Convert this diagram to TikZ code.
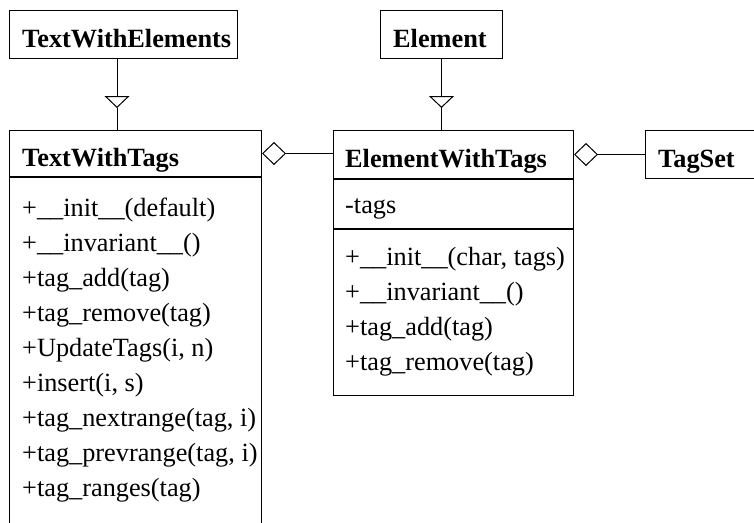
\documentclass[tikz,border=0pt]{standalone}
\usepackage{fontspec}
\setmainfont{Liberation Serif}
\usetikzlibrary{arrows.meta, calc}

\begin{document}
\begin{tikzpicture}[x=1pt, y=-1pt,
  umlbox/.style={draw, line width=1pt, rectangle, inner sep=0pt, anchor=north west},
  ctitle/.style={anchor=base west, inner sep=0pt, font=\fontsize{26.3}{30}\selectfont\bfseries},
  member/.style={anchor=base west, inner sep=0pt, font=\fontsize{26.3}{30}\selectfont},
  link/.style={line width=1pt},
  inherit/.style={link, -{Triangle[open, length=12pt, width=25pt]}},
  aggr/.style={link, {Diamond[open, length=24pt, width=23pt]}-},
]
\clip (0,0) rectangle (754,522);

% class TextWithElements
\node[umlbox, minimum width=228pt, minimum height=48pt] (twe) at (9,10) {};
\node[ctitle] (twe-name) at ($(twe.north west)+(13,37)$) {TextWithElements};

% class Element
\node[umlbox, minimum width=122pt, minimum height=48pt] (el) at (380,10) {};
\node[ctitle] (el-name) at ($(el.north west)+(13,37)$) {Element};

% class TextWithTags (name + methods)
\node[umlbox, minimum width=252pt, minimum height=46pt] (twt) at (9,130) {};
\node[ctitle] (twt-name) at ($(twt.north west)+(13,36)$) {TextWithTags};
\node[umlbox, minimum width=252pt, minimum height=380pt] (twtm) at (twt.south west) {};
\foreach \m [count=\i from 0] in {
    {+\_\_init\_\_(default)},
    {+\_\_invariant\_\_()},
    {+tag\_add(tag)},
    {+tag\_remove(tag)},
    {+UpdateTags(i, n)},
    {+insert(i, s)},
    {+tag\_nextrange(tag, i)},
    {+tag\_prevrange(tag, i)},
    {+tag\_ranges(tag)}}
  \node[member] (twt-m\i) at ($(twtm.north west)+(13,39+35*\i)$) {\m};

% class ElementWithTags (name + attribute + methods)
\node[umlbox, minimum width=240pt, minimum height=48pt] (ewt) at (333,130) {};
\node[ctitle] (ewt-name) at ($(ewt.north west)+(12,37)$) {ElementWithTags};
\node[umlbox, minimum width=240pt, minimum height=49pt] (ewta) at (ewt.south west) {};
\node[member] (ewt-a0) at ($(ewta.north west)+(12,34)$) {-tags};
\node[umlbox, minimum width=240pt, minimum height=166pt] (ewtm) at (ewta.south west) {};
\foreach \m [count=\i from 0] in {
    {+\_\_init\_\_(char, tags)},
    {+\_\_invariant\_\_()},
    {+tag\_add(tag)},
    {+tag\_remove(tag)}}
  \node[member] (ewt-m\i) at ($(ewtm.north west)+(12,36+35*\i)$) {\m};

% class TagSet
\node[umlbox, minimum width=140pt, minimum height=48pt] (ts) at (645,130) {};
\node[ctitle] (ts-name) at ($(ts.north west)+(13,37)$) {TagSet};

% generalisations
\coordinate (twe-port) at ($(twe.south west)+(108,0)$);
\coordinate (g1) at ($(twe-port)+(0,49)$);
\draw[inherit] (twe-port) -- (g1);
\draw[link] (g1) -- (g1 |- twt.north);

\coordinate (g2) at ($(el.south)+(0,49)$);
\draw[inherit] (el.south) -- (g2);
\draw[link] (g2) -- (g2 |- ewt.north);

% aggregations
\draw[aggr] (twt.east) -- (ewt.west |- twt.east);
\draw[aggr] (ewt.east) -- (ts.west);
\end{tikzpicture}
\end{document}
